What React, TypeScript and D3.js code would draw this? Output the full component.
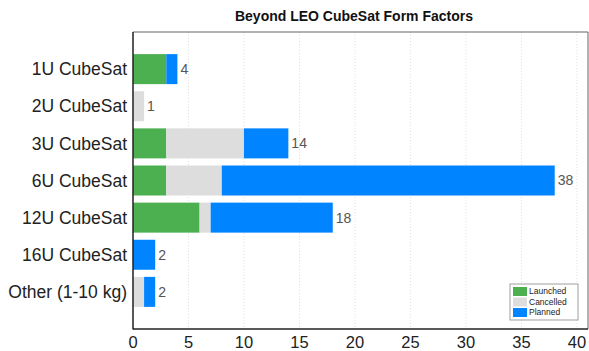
import React from "react";
import * as d3 from "d3";

const categories = ["1U CubeSat", "2U CubeSat", "3U CubeSat", "6U CubeSat", "12U CubeSat", "16U CubeSat", "Other (1-10 kg)"];
const launched = [3, 0, 3, 3, 6, 0, 0];
const cancelled = [0, 1, 7, 5, 1, 0, 1];
const planned = [1, 0, 4, 30, 11, 2, 1];
const seriesNames = ["Launched", "Cancelled", "Planned"];
const seriesColors = ["#4CAF50", "#DDDDDD", "#0084FF"];
const xTicks = [0, 5, 10, 15, 20, 25, 30, 35, 40];

const W = 589, H = 351;
const left = 133, right = 588, top = 32, bottom = 329;
const font = "'Liberation Sans', Arial, Helvetica, sans-serif";

export default function App() {
  const x = d3.scaleLinear().domain([0, 41]).range([left, right]);
  const y = d3.scaleLinear().domain([-1, categories.length]).range([top, bottom]);
  const barH = 30;
  const rows = categories.map((c, i) => ({ c, vals: [launched[i], cancelled[i], planned[i]] }));
  const stack = d3.stack<any>().keys(["0", "1", "2"])(rows.map(r => ({ "0": r.vals[0], "1": r.vals[1], "2": r.vals[2] })));
  return (
    <svg width={W} height={H} style={{ position: "absolute", left: 0, top: 0 }} fontFamily={font}>
      <rect x={0} y={0} width={W} height={H} fill="#fff" />
      {xTicks.map(t => (
        <line key={t} x1={x(t)} x2={x(t)} y1={top} y2={bottom} stroke="#e0e0e0" strokeWidth={1} strokeDasharray="1,2" />
      ))}
      {stack.map((s, si) => s.map((d, i) => {
        const w = x(d[1]) - x(d[0]);
        if (w <= 0) return null;
        return <rect key={si + "-" + i} x={x(d[0])} y={y(i) - barH / 2} width={w} height={barH} fill={seriesColors[si]} />;
      }))}
      {rows.map((r, i) => {
        const total = r.vals[0] + r.vals[1] + r.vals[2];
        return (
          <text key={"v" + i} x={x(total) + 3} y={y(i)} dy="0.35em" fontSize={14} fill="#555">{total}</text>
        );
      })}
      {categories.map((c, i) => (
        <text key={"c" + i} x={127} y={y(i)} dy="0.35em" textAnchor="end" fontSize={17.5} fill="#222">{c}</text>
      ))}
      <line x1={left} x2={right} y1={top} y2={top} stroke="#666" />
      <line x1={right} x2={right} y1={top} y2={bottom} stroke="#666" />
      <line x1={left} x2={left} y1={top} y2={bottom + 0.5} stroke="#222" strokeWidth={1.5} />
      <line x1={left} x2={right} y1={bottom} y2={bottom} stroke="#222" strokeWidth={1.5} />
      {xTicks.map(t => (
        <text key={"t" + t} x={x(t)} y={348} textAnchor="middle" fontSize={16.5} fill="#222">{t}</text>
      ))}
      <text x={354} y={21} textAnchor="middle" fontSize={14} fontWeight="bold" fill="#111">Beyond LEO CubeSat Form Factors</text>
      <g transform="translate(510,284)">
        <rect x={0} y={0} width={68} height={36} fill="#fff" stroke="#888" strokeWidth={0.8} />
        {seriesNames.map((n, i) => (
          <g key={n} transform={`translate(3,${3 + i * 10.5})`}>
            <rect x={0} y={0} width={14} height={9} fill={seriesColors[i]} />
            <text x={16} y={4.5} dy="0.35em" fontSize={8.5} fill="#222">{n}</text>
          </g>
        ))}
      </g>
    </svg>
  );
}
